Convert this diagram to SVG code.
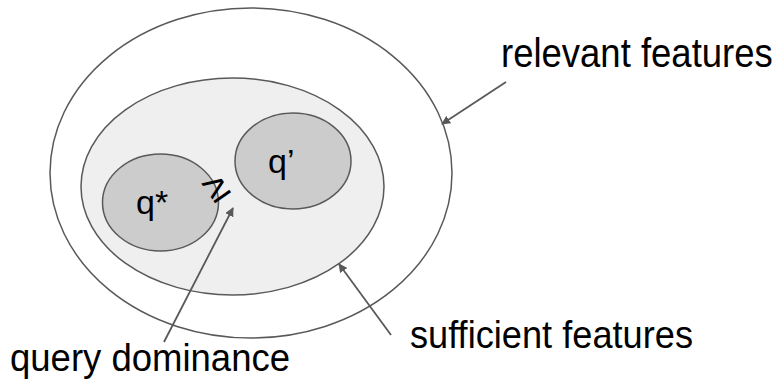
<svg xmlns="http://www.w3.org/2000/svg" width="781" height="380" viewBox="0 0 781 380">
<defs>
<style>
.set{stroke:#595959;stroke-width:1.5}
.lbl{font-family:"Liberation Sans",Arial,sans-serif;fill:#000}
.conn{stroke:#595959;stroke-width:1.8;fill:none;marker-end:url(#ah)}
</style>
<marker id="ah" viewBox="0 0 10 10" refX="9" refY="5" markerWidth="5" markerHeight="5" orient="auto" markerUnits="strokeWidth">
<path d="M0,0 L10,5 L0,10 z" fill="#595959"/>
</marker>
</defs>
<rect width="781" height="380" fill="#fff"/>
<g id="relevant">
<ellipse class="set" cx="251" cy="173" rx="201" ry="165" fill="#fff"/>
</g>
<g id="sufficient">
<ellipse class="set" cx="232.5" cy="186.5" rx="151.5" ry="108.5" fill="#efefef"/>
</g>
<g id="qstar">
<ellipse class="set" cx="160.5" cy="202.5" rx="58" ry="48.5" fill="#cccccc"/>
<text class="lbl" x="136" y="214" font-size="34">q*</text>
</g>
<g id="qprime">
<ellipse class="set" cx="293" cy="161" rx="58" ry="48" fill="#cccccc"/>
<text class="lbl" x="268" y="173" font-size="34">q’</text>
</g>
<g id="geq">
<text class="lbl" x="0" y="12" font-size="40" text-anchor="middle" transform="translate(216,188) rotate(-35)">≥</text>
</g>
<g id="connectors">
<line class="conn" x1="506" y1="82" x2="442" y2="124"/>
<line class="conn" x1="391" y1="335" x2="339" y2="264"/>
<line class="conn" x1="164" y1="342" x2="233" y2="208"/>
</g>
<g id="labels">
<text class="lbl" x="0" y="0" font-size="36.5" transform="translate(501,67) scale(1,1.09)">relevant features</text>
<text class="lbl" x="410" y="348" font-size="39" textLength="283" lengthAdjust="spacingAndGlyphs">sufficient features</text>
<text class="lbl" x="10" y="371" font-size="38" textLength="280" lengthAdjust="spacingAndGlyphs">query dominance</text>
</g>
</svg>
